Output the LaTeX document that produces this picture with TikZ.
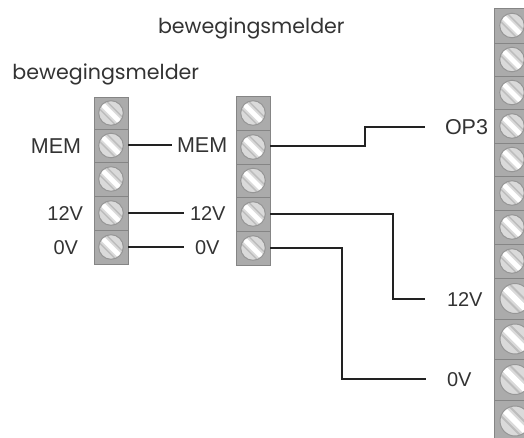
\documentclass[tikz,border=0pt]{standalone}
\usepackage{fontspec}
\setmainfont{Liberation Sans}
\newfontfamily\titlefont{Poppins}
\definecolor{blockgray}{HTML}{ABABAB}
\definecolor{blockedge}{HTML}{858585}
\definecolor{screwfill}{HTML}{DADADA}
\definecolor{screwedge}{HTML}{969696}
\definecolor{stripeedge}{HTML}{BDBDBD}
\definecolor{inkgray}{HTML}{333333}
\definecolor{wire}{HTML}{222222}
\tikzset{
  x=1pt,y=-1pt,
  rowbox/.style={rectangle,draw=blockedge,line width=1pt,fill=blockgray,inner sep=0pt,outer sep=0pt},
  screw/.style={circle,draw=screwedge,line width=1pt,fill=screwfill,inner sep=0pt,outer sep=0pt,
    minimum size=#1*2pt,
    path picture={
      \draw[line width=#1*0.40pt,white] (path picture bounding box.north west) -- (path picture bounding box.south east);
      \draw[line width=#1*0.12pt,stripeedge] ([xshift=#1*0.30pt,yshift=#1*0.30pt]path picture bounding box.north west) -- ([xshift=#1*0.30pt,yshift=#1*0.30pt]path picture bounding box.south east);
      \draw[line width=#1*0.12pt,stripeedge] ([xshift=-#1*0.30pt,yshift=-#1*0.30pt]path picture bounding box.north west) -- ([xshift=-#1*0.30pt,yshift=-#1*0.30pt]path picture bounding box.south east);
    }},
  lbl/.style={font=\fontsize{20}{20}\selectfont,text=inkgray,inner sep=0pt,outer sep=0pt,text height=14pt,text depth=0pt},
  lblwide/.style={lbl,font=\fontsize{21.5}{22}\selectfont},
  heading/.style={font=\titlefont\fontsize{20.6}{22}\selectfont,text=inkgray,inner sep=0pt,outer sep=0pt,anchor=base west},
  wireline/.style={draw=wire,line width=2pt,line join=miter},
}
\newcommand{\termrow}[7]{% name x1 x2 y1 y2 screwx r
  \pgfmathsetmacro{\rw}{#3-#2}\pgfmathsetmacro{\rh}{#5-#4}%
  \node[rowbox,minimum width=\rw pt,minimum height=\rh pt,anchor=north west] (#1) at (#2,#4) {};
  \node[screw=#7] (#1s) at (#6,{(#4+#5)/2}) {};
}
\begin{document}
\begin{tikzpicture}
\useasboundingbox (0,0) rectangle (524,437);
\clip (0,0) rectangle (524,437);
\node[heading] (t1) at (158,33) {bewegingsmelder};
\node[heading] (t2) at (12.5,79) {bewegingsmelder};
% left block
\termrow{la}{94}{128}{97}{129}{111}{12.3}
\termrow{lb}{94}{128}{129}{162}{111}{12.3}
\termrow{lc}{94}{128}{162}{196}{111}{12.3}
\termrow{ld}{94}{128}{196}{230}{111}{12.3}
\termrow{le}{94}{128}{230}{264}{111}{12.3}
% middle block
\termrow{ma}{236}{270}{96}{130}{253}{12.3}
\termrow{mb}{236}{270}{130}{164}{253}{12.3}
\termrow{mc}{236}{270}{164}{197}{253}{12.3}
\termrow{md}{236}{270}{197}{231}{253}{12.3}
\termrow{me}{236}{270}{231}{265}{253}{12.3}
% right block
\termrow{ra}{494}{526}{8}{43}{512}{12.3}
\termrow{rb}{494}{526}{43}{76}{512}{12.3}
\termrow{rc}{494}{526}{76}{109}{512}{12.3}
\termrow{rd}{494}{526}{109}{143}{512}{12.3}
\termrow{re}{494}{526}{143}{176}{512}{12.3}
\termrow{rf}{494}{526}{176}{210}{512}{12.3}
\termrow{rg}{494}{526}{210}{244}{512}{12.3}
\termrow{rh}{494}{526}{244}{278}{512}{12.3}
\termrow{ri}{494}{526}{278}{319}{515}{15}
\termrow{rj}{494}{526}{319}{359}{515}{15}
\termrow{rk}{494}{526}{359}{400}{515}{15}
\termrow{rl}{494}{526}{400}{442}{515}{15}
% labels
\node[lblwide,anchor=east] (lmem) at (81,146) {MEM};
\node[lbl,anchor=east] (l12) at (83,213) {12V};
\node[lbl,anchor=east] (l0) at (78,247) {0V};
\node[lblwide,anchor=west] (mmem) at (177,145) {MEM};
\node[lbl,anchor=west] (m12) at (190,213) {12V};
\node[lbl,anchor=west] (m0) at (195,247) {0V};
\node[lblwide,anchor=west] (rop) at (445,127) {OP3};
\node[lbl,anchor=west] (r12) at (447,299) {12V};
\node[lbl,anchor=west] (r0) at (447,379) {0V};
% wires
\draw[wireline,shorten >=5pt] (lb.east |- mmem.west) -- (mmem.west);
\draw[wireline,shorten >=6pt] (ld.east |- m12.west) -- (m12.west);
\draw[wireline,shorten >=11pt] (le.east |- m0.west) -- (m0.west);
\coordinate (e1) at (365,136);
\coordinate (e2) at (393,255);
\coordinate (e3) at (342,310);
\coordinate (s1) at (270,146);
\coordinate (s2) at (270,214);
\coordinate (s3) at (270,248);
\draw[wireline,shorten >=20pt] (s1) -| (e1) |- (rop.west);
\draw[wireline,shorten >=22pt] (s2) -| (e2) |- (r12.west);
\draw[wireline,shorten >=21pt] (s3) -| (e3) |- (r0.west);
\end{tikzpicture}
\end{document}
